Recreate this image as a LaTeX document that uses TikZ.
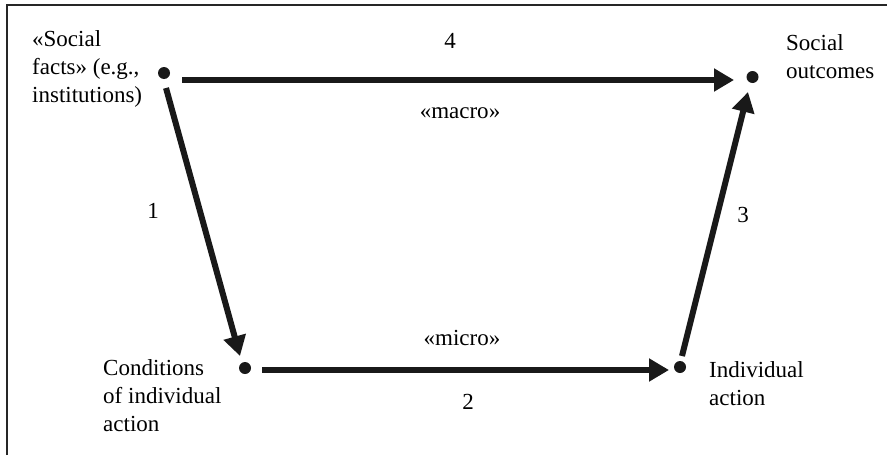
\documentclass[tikz,border=0pt]{standalone}
\usepackage{fontspec}
\setmainfont{Liberation Serif}
\usetikzlibrary{arrows.meta}
\begin{document}
\begin{tikzpicture}[x=1pt,y=-1pt,
  lbl/.style={font=\fontsize{23}{28}\selectfont, inner sep=0pt, align=left, anchor=base west},
  num/.style={font=\fontsize{23}{28}\selectfont, inner sep=0pt, anchor=base},
  dotn/.style={circle, fill=black!90, inner sep=0pt, minimum size=12pt},
  arr/.style={line width=6pt, draw=black!90, -{Triangle[length=20pt,width=22pt]}},
  frameline/.style={line width=2pt, draw=black!85}]
\useasboundingbox (0,0) rectangle (891,455);
% frame (top and left edges only)
\coordinate (f1) at (7,455);
\coordinate (f2) at (7,4.5);
\coordinate (f3) at (887,4.5);
\draw[frameline] (f1) -- (f2) -- (f3);
% dots
\node[dotn] (sf) at (164,73) {};
\node[dotn] (so) at (752.5,77) {};
\node[dotn] (ci) at (245,368) {};
\node[dotn] (ia) at (680,367) {};
% arrow ends
\coordinate (a4s) at (182,80);
\coordinate (a4e) at (734,80);
\coordinate (a1s) at (166,88);
\coordinate (a1e) at (240,356);
\coordinate (a2s) at (262,370);
\coordinate (a2e) at (669,370);
\coordinate (a3s) at (682,356);
\coordinate (a3e) at (748,92);
\draw[arr] (a4s) -- (a4e);
\draw[arr] (a1s) -- (a1e);
\draw[arr] (a2s) -- (a2e);
\draw[arr] (a3s) -- (a3e);
% labels (anchored at the baseline of the last line)
\node[lbl] (tsf) at (32,102) {«Social\\facts» (e.g.,\\institutions)};
\node[lbl] (tso) at (786,78) {Social\\outcomes};
\node[lbl] (tci) at (103,431) {Conditions\\of individual\\action};
\node[lbl] (tia) at (709,405) {Individual\\action};
\node[num] (n4) at (450,48) {4};
\node[num] (mac) at (460,118) {«macro»};
\node[num] (n1) at (153,218) {1};
\node[num] (n3) at (743,222) {3};
\node[num] (mic) at (462,345) {«micro»};
\node[num] (n2) at (468,409) {2};
\end{tikzpicture}
\end{document}
